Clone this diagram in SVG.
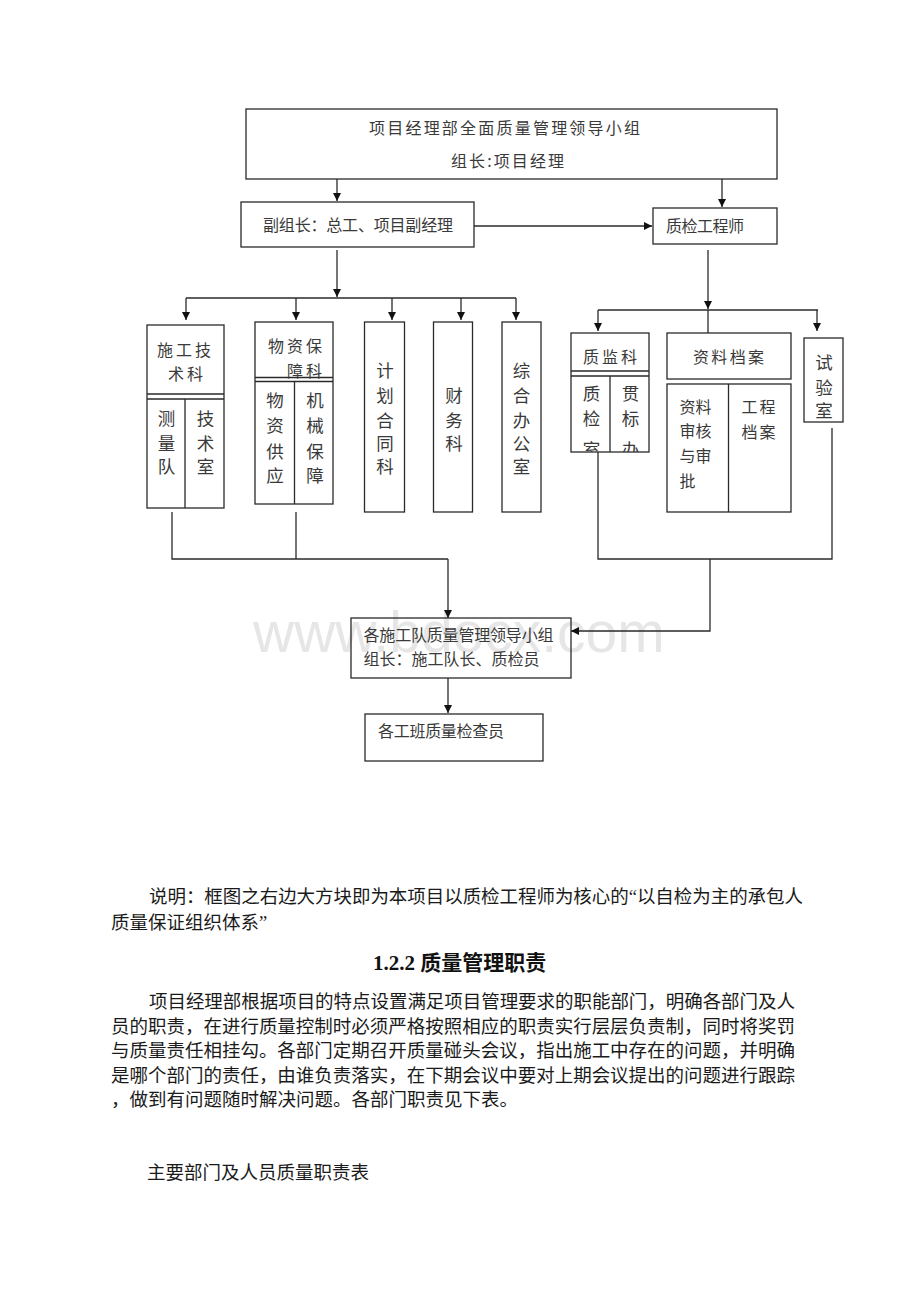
<svg xmlns="http://www.w3.org/2000/svg" width="920" height="1302" viewBox="0 0 920 1302">
<style>
.bx{fill:none;stroke:#2a2a2a;stroke-width:1.3}
.ln{fill:none;stroke:#2a2a2a;stroke-width:1.3}
.t{font-family:"Noto Sans CJK SC","Liberation Sans",sans-serif;font-size:16px;fill:#3a3a3a}
.tv{font-family:"Noto Sans CJK SC","Liberation Sans",sans-serif;font-size:17.5px;fill:#3a3a3a;text-anchor:middle}
.p{font-family:"Liberation Serif","Noto Sans CJK SC",serif;font-size:18.5px;fill:#1a1a1a}
.h{font-family:"Liberation Serif","Noto Sans CJK SC",serif;font-size:21px;font-weight:bold;fill:#111}
.wm{font-family:"Liberation Sans",Arial,sans-serif;font-size:57px;fill:#e6e6e6}
</style>
<defs>
<marker id="ar" viewBox="0 0 10 10" refX="10" refY="5" markerUnits="userSpaceOnUse" markerWidth="8" markerHeight="8" orient="auto">
<path d="M0,0 L10,5 L0,10 z" fill="#111"/>
</marker>
<clipPath id="cz"><rect x="571" y="376" width="78" height="76"/></clipPath>
</defs>
<rect width="920" height="1302" fill="#fff"/>
<text class="wm" x="253" y="652">www.bdocx.com</text>

<g id="connectors">
<path class="ln" d="M337,179 V201" marker-end="url(#ar)"/>
<path class="ln" d="M722,179 V207" marker-end="url(#ar)"/>
<path class="ln" d="M474,226 H652" marker-end="url(#ar)"/>
<path class="ln" d="M337,250 V297" marker-end="url(#ar)"/>
<path class="ln" d="M186,298 H516"/>
<path class="ln" d="M186,298 V320" marker-end="url(#ar)"/>
<path class="ln" d="M296,298 V320" marker-end="url(#ar)"/>
<path class="ln" d="M392,298 V320" marker-end="url(#ar)"/>
<path class="ln" d="M461,298 V320" marker-end="url(#ar)"/>
<path class="ln" d="M516,298 V320" marker-end="url(#ar)"/>
<path class="ln" d="M708,250 V309" marker-end="url(#ar)"/>
<path class="ln" d="M598,310 H818"/>
<path class="ln" d="M598,310 V331" marker-end="url(#ar)"/>
<path class="ln" d="M817,310 V331" marker-end="url(#ar)"/>
<path class="ln" d="M708,310 V333"/>
<path class="ln" d="M172,512 V559 H448"/>
<path class="ln" d="M296,512 V559"/>
<path class="ln" d="M448,559 V618" marker-end="url(#ar)"/>
<path class="ln" d="M598,452 V559 H832 V428"/>
<path class="ln" d="M710,559 V631 H571" marker-end="url(#ar)"/>
<path class="ln" d="M448,678 V713" marker-end="url(#ar)"/>
</g>

<g id="top">
<rect class="bx" x="246" y="109" width="531" height="70"/>
<text class="t" x="369" y="133.5" font-size="17" textLength="271" lengthAdjust="spacing">项目经理部全面质量管理领导小组</text>
<text class="t" x="451" y="166.5" font-size="17" textLength="113" lengthAdjust="spacing">组长:项目经理</text>
</g>

<g id="deputy">
<rect class="bx" x="241" y="202" width="233" height="45"/>
<text class="t" x="263" y="231" font-size="15.5" textLength="190" lengthAdjust="spacing">副组长：总工、项目副经理</text>
</g>

<g id="qc-engineer">
<rect class="bx" x="653" y="208" width="124" height="36"/>
<text class="t" x="666" y="232" font-size="15.5" textLength="78" lengthAdjust="spacing">质检工程师</text>
</g>

<g id="construction-tech">
<rect class="bx" x="147" y="325" width="77" height="183"/>
<path class="ln" d="M147,394 H224 M147,399 H224 M185,399 V508"/>
<text class="t" x="157" y="356" font-size="17.5" textLength="54" lengthAdjust="spacing">施工技</text>
<text class="t" x="168" y="380" font-size="17.5" textLength="35" lengthAdjust="spacing">术科</text>
<text class="tv"><tspan x="166.5" y="424.5">测</tspan><tspan x="166.5" y="449.5">量</tspan><tspan x="166.5" y="473">队</tspan></text>
<text class="tv"><tspan x="205.5" y="424.5">技</tspan><tspan x="205.5" y="449.5">术</tspan><tspan x="205.5" y="473">室</tspan></text>
</g>

<g id="material">
<rect class="bx" x="255" y="322" width="78" height="182"/>
<path class="ln" d="M255,377.5 H333 M255,381.5 H333 M294.5,381.5 V504"/>
<text class="t" x="268" y="351.5" font-size="17.5" textLength="54" lengthAdjust="spacing">物资保</text>
<text class="t" x="287" y="376.5" font-size="17.5" textLength="35" lengthAdjust="spacing">障科</text>
<text class="tv"><tspan x="275" y="406.5">物</tspan><tspan x="275" y="431.5">资</tspan><tspan x="275" y="457.5">供</tspan><tspan x="275" y="482">应</tspan></text>
<text class="tv"><tspan x="315" y="406.5">机</tspan><tspan x="315" y="431.5">械</tspan><tspan x="315" y="457.5">保</tspan><tspan x="315" y="482">障</tspan></text>
</g>

<g id="plan-contract">
<rect class="bx" x="364.5" y="322" width="40" height="190"/>
<text class="tv"><tspan x="385" y="376.5">计</tspan><tspan x="385" y="401.5">划</tspan><tspan x="385" y="426.5">合</tspan><tspan x="385" y="450">同</tspan><tspan x="385" y="473">科</tspan></text>
</g>

<g id="finance">
<rect class="bx" x="433.5" y="322" width="39" height="190"/>
<text class="tv"><tspan x="454" y="401.5">财</tspan><tspan x="454" y="426.5">务</tspan><tspan x="454" y="450">科</tspan></text>
</g>

<g id="office">
<rect class="bx" x="502" y="322" width="39" height="190"/>
<text class="tv"><tspan x="521.5" y="376.5">综</tspan><tspan x="521.5" y="401.5">合</tspan><tspan x="521.5" y="426.5">办</tspan><tspan x="521.5" y="450">公</tspan><tspan x="521.5" y="473">室</tspan></text>
</g>

<g id="quality-supervision">
<rect class="bx" x="571" y="333" width="78" height="119"/>
<path class="ln" d="M571,371 H649 M571,376 H649 M610,376 V452"/>
<text class="t" x="583" y="363" font-size="17.5" textLength="54" lengthAdjust="spacing">质监科</text>
<g clip-path="url(#cz)">
<text class="tv"><tspan x="591.5" y="400">质</tspan><tspan x="591.5" y="425">检</tspan><tspan x="591.5" y="455.5">室</tspan></text>
<text class="tv"><tspan x="630.5" y="400">贯</tspan><tspan x="630.5" y="425">标</tspan><tspan x="630.5" y="455.5">办</tspan></text>
</g>
</g>

<g id="archives">
<rect class="bx" x="667" y="333" width="124" height="46"/>
<rect class="bx" x="667" y="384" width="124" height="128"/>
<path class="ln" d="M728.5,384 V512"/>
<text class="t" x="693" y="363" font-size="17.5" textLength="71" lengthAdjust="spacing">资料档案</text>
<text class="t" font-size="17.5"><tspan x="679.5" y="413">资料</tspan><tspan x="679.5" y="437">审核</tspan><tspan x="679.5" y="462">与审</tspan><tspan x="679.5" y="486.5">批</tspan></text>
<text class="t" font-size="17.5" letter-spacing="2"><tspan x="741.5" y="413">工程</tspan><tspan x="741.5" y="438">档案</tspan></text>
</g>

<g id="lab">
<rect class="bx" x="804" y="338" width="39" height="84"/>
<text class="tv"><tspan x="824" y="368.5">试</tspan><tspan x="824" y="393.5">验</tspan><tspan x="824" y="416.5">室</tspan></text>
</g>

<g id="team-group">
<rect class="bx" x="351" y="618" width="220" height="60"/>
<text class="t" x="363.5" y="641" textLength="190" lengthAdjust="spacing">各施工队质量管理领导小组</text>
<text class="t" x="363.5" y="664.5" textLength="176" lengthAdjust="spacing">组长：施工队长、质检员</text>
</g>

<g id="inspectors">
<rect class="bx" x="365" y="714" width="178" height="47"/>
<text class="t" x="378" y="736.5" textLength="126" lengthAdjust="spacing">各工班质量检查员</text>
</g>

<g id="body-text">
<text class="p" x="149" y="903" textLength="654" lengthAdjust="spacing">说明：框图之右边大方块即为本项目以质检工程师为核心的“以自检为主的承包人</text>
<text class="p" x="111" y="928.5">质量保证组织体系”</text>
<text class="h" x="373" y="969.5">1.2.2 质量管理职责</text>
<text class="p" x="149" y="1008" textLength="646" lengthAdjust="spacing">项目经理部根据项目的特点设置满足项目管理要求的职能部门，明确各部门及人</text>
<text class="p" x="111" y="1032.5" textLength="684" lengthAdjust="spacing">员的职责，在进行质量控制时必须严格按照相应的职责实行层层负责制，同时将奖罚</text>
<text class="p" x="111" y="1057" textLength="684" lengthAdjust="spacing">与质量责任相挂勾。各部门定期召开质量碰头会议，指出施工中存在的问题，并明确</text>
<text class="p" x="111" y="1081.5" textLength="684" lengthAdjust="spacing">是哪个部门的责任，由谁负责落实，在下期会议中要对上期会议提出的问题进行跟踪</text>
<text class="p" x="111" y="1106">，做到有问题随时解决问题。各部门职责见下表。</text>
<text class="p" x="147" y="1178.5">主要部门及人员质量职责表</text>
</g>
</svg>
